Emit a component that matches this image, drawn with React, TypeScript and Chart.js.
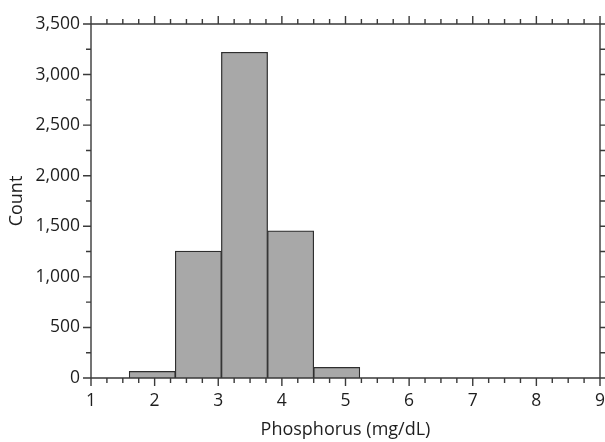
import { useEffect, useRef } from "react";
import { Chart, registerables } from "chart.js";

Chart.register(...registerables);

// Histogram bin edges (mg/dL) and counts per bin
const binEdges = [1.6, 2.325, 3.05, 3.775, 4.5, 5.225];
const counts = [65, 1255, 3220, 1455, 105];

const xRange = [1, 9];
const yRange = [0, 3500];
const xMinorStep = 0.25;
const yMinorStep = 250;
const xMajorStep = 1;
const yMajorStep = 500;

const xTitle = "Phosphorus (mg/dL)";
const yTitle = "Count";

const FONT = "'Open Sans', 'DejaVu Sans', sans-serif";
const AXIS_COLOR = "#3a3a3a";
const TEXT_COLOR = "#1e1e1e";

const framePlugin = {
  id: "frameTicks",
  afterDraw(chart: any) {
    const { ctx, chartArea: a, scales } = chart;
    const x = scales.x;
    const y = scales.y;
    ctx.save();
    ctx.strokeStyle = AXIS_COLOR;
    ctx.lineWidth = 1.4;
    ctx.beginPath();
    ctx.rect(a.left, a.top, a.right - a.left, a.bottom - a.top);
    x.ticks.forEach((t: any) => {
      const px = x.getPixelForValue(t.value);
      const major = Math.abs(t.value / xMajorStep - Math.round(t.value / xMajorStep)) < 1e-6;
      const len = major ? 8 : 5;
      ctx.moveTo(px, a.bottom);
      ctx.lineTo(px, a.bottom + len);
      ctx.moveTo(px, a.top);
      ctx.lineTo(px, a.top - len);
    });
    y.ticks.forEach((t: any) => {
      const py = y.getPixelForValue(t.value);
      const major = t.value % yMajorStep === 0;
      const len = major ? 8 : 5;
      ctx.moveTo(a.left, py);
      ctx.lineTo(a.left - len, py);
      ctx.moveTo(a.right, py);
      ctx.lineTo(a.right + len, py);
    });
    ctx.stroke();
    ctx.restore();
  },
};

export default function App() {
  const ref = useRef<HTMLCanvasElement | null>(null);

  useEffect(() => {
    if (!ref.current) return;
    const data = counts.map((c, i) => ({
      x: (binEdges[i] + binEdges[i + 1]) / 2,
      y: c,
    }));
    const chart = new Chart(ref.current, {
      type: "bar",
      data: {
        datasets: [
          {
            data: data as any,
            xAxisID: "xb",
            backgroundColor: "#a8a8a8",
            borderColor: "#2e2e2e",
            borderWidth: 1.2,
            barPercentage: 1,
            categoryPercentage: 1,
          },
        ],
      },
      options: {
        animation: false,
        responsive: false,
        maintainAspectRatio: false,
        layout: { padding: { top: 24, right: 5, left: 0, bottom: 0 } },
        plugins: {
          legend: { display: false },
          tooltip: { enabled: false },
        },
        scales: {
          xb: {
            type: "linear",
            display: false,
            min: xRange[0],
            max: xRange[1],
            offset: false,
            ticks: { stepSize: xRange[1] - xRange[0] },
          },
          x: {
            type: "linear",
            min: xRange[0],
            max: xRange[1],
            offset: false,
            grid: { display: false, drawTicks: false },
            border: { display: false },
            ticks: {
              stepSize: xMinorStep,
              autoSkip: false,
              maxRotation: 0,
              padding: 13,
              color: TEXT_COLOR,
              font: { family: FONT, size: 17.5 },
              callback: (v: any) =>
                Math.abs(v - Math.round(v)) < 1e-6 ? String(Math.round(v)) : "",
            },
            title: {
              display: true,
              text: xTitle,
              color: TEXT_COLOR,
              font: { family: FONT, size: 18, lineHeight: 1.2 },
              padding: { top: 0, bottom: 1 },
            },
            afterFit: (s: any) => {
              s.height = 64;
              s.paddingLeft = 0;
              s.paddingRight = 0;
            },
          },
          y: {
            type: "linear",
            min: yRange[0],
            max: yRange[1],
            grid: { display: false, drawTicks: false },
            border: { display: false },
            ticks: {
              stepSize: yMinorStep,
              autoSkip: false,
              padding: 11,
              color: TEXT_COLOR,
              font: { family: FONT, size: 17.5 },
              callback: (v: any) =>
                v % yMajorStep === 0 ? Number(v).toLocaleString("en-US") : "",
            },
            title: {
              display: true,
              text: yTitle,
              color: TEXT_COLOR,
              font: { family: FONT, size: 18, lineHeight: 1.2 },
              padding: { top: 6, bottom: 0 },
            },
            afterFit: (s: any) => {
              s.width = 91;
              s.paddingTop = 0;
              s.paddingBottom = 0;
            },
          },
        },
      },
      plugins: [framePlugin],
    });
    return () => chart.destroy();
  }, []);

  return (
    <div style={{ position: "absolute", left: 0, top: 0, width: 605, height: 442, background: "#fff" }}>
      <canvas ref={ref} width={605} height={442} />
    </div>
  );
}
